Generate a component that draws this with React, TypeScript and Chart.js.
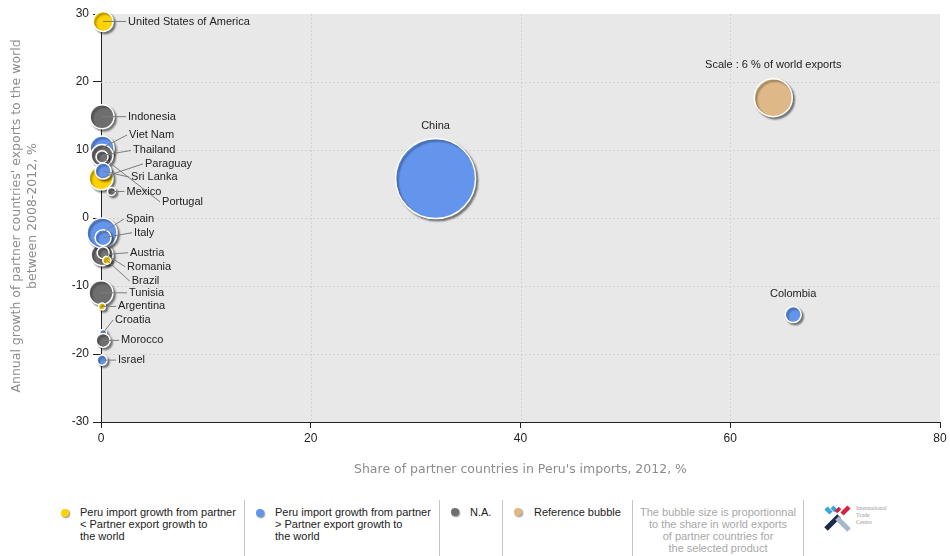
import React, { useEffect, useRef } from "react";
import { Chart, registerables } from "chart.js";

Chart.register(...registerables);

// ---------- DATA ----------
const countries = [
  "China", "Colombia", "United States of America", "Indonesia", "Viet Nam", "Thailand",
  "Portugal", "Paraguay", "Sri Lanka", "Mexico", "Austria", "Spain", "Italy", "Romania",
  "Brazil", "Tunisia", "Argentina", "Croatia", "Morocco", "Israel",
];
// Share of partner countries in Peru's imports, 2012, %
const importShare = [31.9, 66.0, 0.2, 0.1, 0.1, 0.1, 0.1, 0.0, 0.2, 1.0, 0.1, 0.1, 0.2, 0.2, 0.55, 0.0, 0.1, 0.2, 0.2, 0.1];
// Annual growth of partner countries' exports to the world, 2008-2012, %
const exportGrowth = [5.8, -14.2, 28.9, 14.9, 10.3, 9.2, 9.0, 5.9, 6.9, 3.9, -5.4, -2.2, -2.9, -5.1, -6.2, -11.0, -13.0, -16.9, -18.0, -20.9];
// Share in world exports, % (bubble size)
const worldShare = [26.6, 1.06, 1.66, 2.39, 2.39, 2.01, 0.6, 2.39, 1.06, 0.27, 2.01, 3.74, 1.06, 0.6, 0.27, 2.39, 0.2, 0.2, 0.81, 0.42];
// lower = Peru import growth < partner export growth; higher = >; na = N.A.
const groups = [
  "higher", "higher", "lower", "na", "higher", "na", "na", "lower", "higher", "na", "na",
  "higher", "higher", "na", "lower", "na", "lower", "higher", "na", "higher",
];

const refLabel = "Scale : 6 % of world exports";
const refX = 64.1;
const refY = 17.7;
const refShare = 6;

const xTicks = { min: 0, max: 80, step: 20 };
const yTicks = { min: -30, max: 30, step: 10 };

const xTitle = "Share of partner countries in Peru's imports, 2012, %";
const yTitleLines = ["Annual growth of partner countries' exports to the world", "between 2008-2012, %"];

const legendLabels = [
  "Peru import growth from partner\n< Partner export growth to\nthe world",
  "Peru import growth from partner\n> Partner export growth to\nthe world",
  "N.A.",
  "Reference bubble",
];
const legendNote = "The bubble size is proportionnal\nto the share in world exports\nof partner countries for\nthe selected product";
const logoLines = ["International", "Trade", "Centre"];

// ---------- STYLE / LAYOUT ----------
const COLORS: Record<string, string> = {
  lower: "#FFD200",
  higher: "#6495ED",
  na: "#6e6e6e",
  ref: "#DEB887",
};
const REF_RADIUS = 19;
const radiusFor = (share: number) => REF_RADIUS * Math.sqrt(share / refShare);

// label offsets (px from bubble centre to label start); missing => centred above
const labelLayout: Record<string, [number, number]> = {
  "United States of America": [25, 0],
  Indonesia: [26, 0],
  "Viet Nam": [27, -13],
  Thailand: [31, -5],
  Portugal: [60, 45],
  Paraguay: [44, -14],
  "Sri Lanka": [28, 6],
  Mexico: [15, 0],
  Austria: [28, -2],
  Spain: [24, -14],
  Italy: [31, -5],
  Romania: [24, 14],
  Brazil: [25, 21],
  Tunisia: [28, 0],
  Argentina: [16, 0],
  Croatia: [12, -13],
  Morocco: [18, 0],
  Israel: [16, 0],
};

const LABEL_FONT = "11px 'Liberation Sans', Arial, sans-serif";
const TITLE_FONT_FAMILY = "'DejaVu Sans', Verdana, sans-serif";
const TITLE_SIZE = 12.5;

const bgGridPlugin = {
  id: "bgGrid",
  beforeDraw(chart: any) {
    const { ctx, chartArea: a } = chart;
    ctx.save();
    ctx.fillStyle = "#e8e8e8";
    ctx.fillRect(a.left, a.top, a.right - a.left, a.bottom - a.top);
    ctx.restore();
  },
  beforeDatasetsDraw(chart: any) {
    const { ctx, chartArea: a, scales } = chart;
    const x = scales.x;
    const y = scales.y;
    ctx.save();
    ctx.strokeStyle = "#d2d2d2";
    ctx.lineWidth = 1;
    ctx.setLineDash([2, 2]);
    x.ticks.forEach((t: any, i: number) => {
      if (i === 0 || i === x.ticks.length - 1) return;
      const px = Math.round(x.getPixelForValue(t.value)) + 0.5;
      ctx.beginPath();
      ctx.moveTo(px, a.top);
      ctx.lineTo(px, a.bottom);
      ctx.stroke();
    });
    y.ticks.forEach((t: any, i: number) => {
      if (i === 0 || i === y.ticks.length - 1) return;
      const py = Math.round(y.getPixelForValue(t.value)) + 0.5;
      ctx.beginPath();
      ctx.moveTo(a.left, py);
      ctx.lineTo(a.right, py);
      ctx.stroke();
    });
    ctx.restore();
  },
};

const shadowPlugin = {
  id: "bubbleShadow",
  beforeDatasetsDraw(chart: any) {
    const ctx = chart.ctx;
    ctx.save();
    ctx.shadowColor = "rgba(0,0,0,0.45)";
    ctx.shadowOffsetX = 2;
    ctx.shadowOffsetY = 2;
    ctx.shadowBlur = 2;
  },
  afterDatasetsDraw(chart: any) {
    chart.ctx.restore();
  },
};

const labelPlugin = {
  id: "countryLabels",
  afterDatasetsDraw(chart: any) {
    const { ctx, scales } = chart;
    const x = scales.x;
    const y = scales.y;
    ctx.save();
    ctx.font = LABEL_FONT;
    ctx.textBaseline = "middle";
    ctx.fillStyle = "#222";
    countries.forEach((name, i) => {
      const px = x.getPixelForValue(importShare[i]);
      const py = y.getPixelForValue(exportGrowth[i]);
      const r = radiusFor(worldShare[i]);
      const lay = labelLayout[name];
      if (!lay) {
        ctx.textAlign = "center";
        ctx.fillText(name, px, py - r - 13);
      } else {
        const tx = px + lay[0];
        const ty = py + lay[1];
        ctx.strokeStyle = "#7c7c7c";
        ctx.lineWidth = 1;
        ctx.beginPath();
        ctx.moveTo(px, py);
        ctx.lineTo(tx - 2, ty);
        ctx.stroke();
        ctx.textAlign = "left";
        ctx.fillText(name, tx, ty);
      }
    });
    const rx = x.getPixelForValue(refX);
    const ry = y.getPixelForValue(refY);
    ctx.textAlign = "center";
    ctx.fillText(refLabel, rx, ry - radiusFor(refShare) - 14);
    ctx.restore();
  },
};

const yTitlePlugin = {
  id: "yTitle",
  afterDraw(chart: any) {
    const { ctx, chartArea: a } = chart;
    ctx.save();
    ctx.font = `${TITLE_SIZE}px ${TITLE_FONT_FAMILY}`;
    ctx.fillStyle = "#8c8c8c";
    ctx.textAlign = "center";
    ctx.textBaseline = "middle";
    const cy = (a.top + a.bottom) / 2 - 2;
    yTitleLines.forEach((line, i) => {
      ctx.save();
      ctx.translate(17 + i * 16, cy);
      ctx.rotate(-Math.PI / 2);
      ctx.fillText(line, 0, 0);
      ctx.restore();
    });
    ctx.restore();
  },
};

function LegendDot({ color, left, top }: { color: string; left: number; top: number }) {
  return (
    <span
      style={{
        position: "absolute",
        left,
        top,
        width: 8,
        height: 8,
        borderRadius: "50%",
        background: color,
        boxShadow: "1px 1px 1.5px rgba(0,0,0,0.45)",
      }}
    />
  );
}

export default function App() {
  const ref = useRef<HTMLCanvasElement | null>(null);

  useEffect(() => {
    if (!ref.current) return;
    const points = countries.map((_, i) => ({
      x: importShare[i],
      y: exportGrowth[i],
      r: radiusFor(worldShare[i]),
    }));
    points.push({ x: refX, y: refY, r: radiusFor(refShare) });
    const colors = groups.map((g) => COLORS[g]).concat([COLORS.ref]);

    const tickFont = { family: "'Liberation Sans', Arial, sans-serif", size: 12 };
    const chart = new Chart(ref.current, {
      type: "bubble",
      data: {
        datasets: [
          {
            label: "Partners",
            data: points,
            backgroundColor: colors,
            borderColor: "#ffffff",
            borderWidth: 1.5,
            clip: false as any,
          },
        ],
      },
      options: {
        animation: false,
        responsive: false,
        events: [],
        layout: { autoPadding: false, padding: { top: 14, right: 10, left: 0, bottom: 0 } },
        plugins: { legend: { display: false }, tooltip: { enabled: false } },
        scales: {
          x: {
            type: "linear",
            min: xTicks.min,
            max: xTicks.max,
            z: 1,
            afterFit: (s: any) => {
              s.height = 63;
            },
            ticks: { stepSize: xTicks.step, color: "#222", font: tickFont, padding: 3 },
            grid: { drawOnChartArea: false, drawTicks: true, tickLength: 6, tickColor: "#222" },
            border: { display: true, color: "#222", width: 1 },
            title: {
              display: true,
              text: xTitle,
              color: "#8c8c8c",
              font: { family: TITLE_FONT_FAMILY, size: TITLE_SIZE },
              padding: { top: 0, bottom: 8 },
            },
          },
          y: {
            type: "linear",
            min: yTicks.min,
            max: yTicks.max,
            z: 1,
            afterFit: (s: any) => {
              s.width = 101;
            },
            ticks: { stepSize: yTicks.step, color: "#222", font: tickFont, padding: 4 },
            grid: { drawOnChartArea: false, drawTicks: true, tickLength: 8, tickColor: "#222" },
            border: { display: true, color: "#222", width: 1 },
          },
        },
      },
      plugins: [bgGridPlugin, shadowPlugin, labelPlugin, yTitlePlugin],
    } as any);
    return () => chart.destroy();
  }, []);

  const textStyle: React.CSSProperties = {
    position: "absolute",
    fontSize: 11,
    lineHeight: "12px",
    color: "#222",
    whiteSpace: "pre",
  };
  const sep = (left: number) => (
    <div key={left} style={{ position: "absolute", left, top: 500, width: 1, height: 56, background: "#c4c4c4" }} />
  );

  return (
    <div
      style={{
        position: "absolute",
        left: 0,
        top: 0,
        width: 950,
        height: 556,
        background: "#fff",
        overflow: "hidden",
        fontFamily: "'Liberation Sans', Arial, sans-serif",
      }}
    >
      <canvas ref={ref} width={950} height={485} style={{ position: "absolute", left: 0, top: 0, width: 950, height: 485 }} />
      {[244, 439, 502, 632, 803].map(sep)}
      <LegendDot color={COLORS.lower} left={61} top={509} />
      <div style={{ ...textStyle, left: 80, top: 506 }}>{legendLabels[0]}</div>
      <LegendDot color={COLORS.higher} left={256} top={509} />
      <div style={{ ...textStyle, left: 275, top: 506 }}>{legendLabels[1]}</div>
      <LegendDot color={COLORS.na} left={451} top={508} />
      <div style={{ ...textStyle, left: 470, top: 506 }}>{legendLabels[2]}</div>
      <LegendDot color={COLORS.ref} left={514} top={508} />
      <div style={{ ...textStyle, left: 534, top: 506 }}>{legendLabels[3]}</div>
      <div style={{ ...textStyle, left: 633, top: 506, width: 170, textAlign: "center", color: "#a8a8a8" }}>{legendNote}</div>
      <svg style={{ position: "absolute", left: 823, top: 504 }} width={30} height={28} viewBox="0 0 30 28">
        <line x1={3} y1={4} x2={8} y2={9} stroke="#39a6dc" strokeWidth={4.5} />
        <line x1={9} y1={3} x2={13} y2={7} stroke="#39a6dc" strokeWidth={4} />
        <line x1={26} y1={3} x2={19} y2={10} stroke="#d7223d" strokeWidth={4.5} />
        <line x1={17} y1={4} x2={13} y2={8} stroke="#d7223d" strokeWidth={3.5} />
        <line x1={3} y1={25} x2={16} y2={12} stroke="#1c2a4c" strokeWidth={5} />
        <line x1={14} y1={14} x2={26} y2={26} stroke="#a7b8cb" strokeWidth={5} />
      </svg>
      <div
        style={{
          position: "absolute",
          left: 856,
          top: 505,
          fontSize: 6,
          lineHeight: "7px",
          color: "#9a9a9a",
          fontFamily: "'Liberation Serif', serif",
          whiteSpace: "pre",
        }}
      >
        {logoLines.join("\n")}
      </div>
    </div>
  );
}
